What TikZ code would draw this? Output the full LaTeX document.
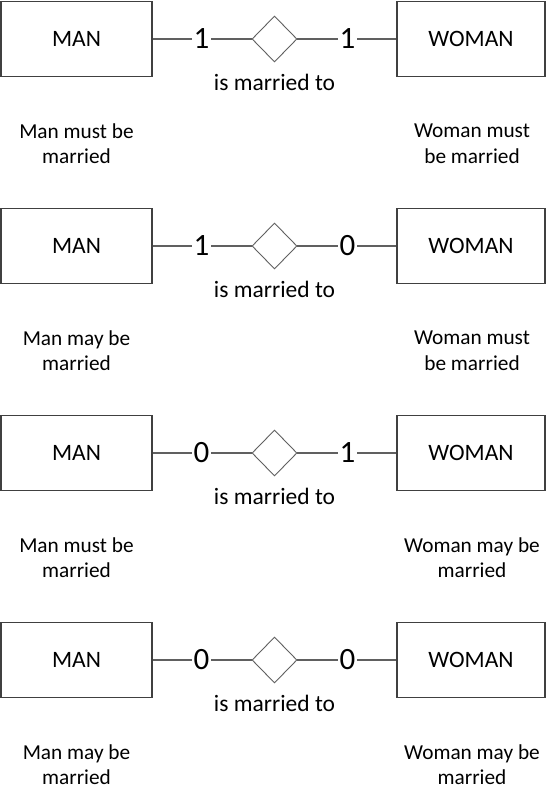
\documentclass[tikz,border=0pt]{standalone}
\usepackage{fontspec}
\setmainfont{Carlito}
\usetikzlibrary{shapes.geometric}
\definecolor{boxc}{HTML}{404040}
\definecolor{linec}{HTML}{606060}
\begin{document}
\begin{tikzpicture}[x=1pt,y=-1pt,
  entity/.style={draw=boxc,line width=1.2pt,minimum width=151pt,minimum height=75pt,inner sep=0pt,font=\fontsize{23.5}{28}\selectfont},
  rel/.style={diamond,draw=linec,line width=0.9pt,minimum width=45pt,minimum height=46pt,inner sep=0pt},
  card/.style={fill=white,inner sep=2pt,font=\fontsize{31}{31}\selectfont},
  conn/.style={draw=linec,line width=1.2pt},
  note/.style={align=center,font=\fontsize{21.3}{25.5}\selectfont},
  rlabel/.style={anchor=base,font=\fontsize{23.5}{28}\selectfont}]
\useasboundingbox (0,0) rectangle (558,802);
\foreach \i/\l/\r/\ml/\wl in {
  1/1/1/{Man must be\\married}/{Woman must\\be married},
  2/1/0/{Man may be\\married}/{Woman must\\be married},
  3/0/1/{Man must be\\married}/{Woman may be\\married},
  4/0/0/{Man may be\\married}/{Woman may be\\married}}{
  \pgfmathsetmacro\y{39+207*(\i-1)}
  \node[entity] (man\i) at (76.5,\y) {MAN};
  \node[entity,minimum width=148pt] (woman\i) at (471,\y) {WOMAN};
  \node[rel] (rel\i) at (274.5,\y) {};
  \node[rlabel] (rt\i) at (274.5,\y+51.5) {is married to};
  \draw[conn] (man\i) -- (rel\i);
  \draw[conn] (rel\i) -- (woman\i);
  \node[card] (cl\i) at (201.5,\y) {\l};
  \node[card] (cr\i) at (347.5,\y) {\r};
  \node[note] (mn\i) at (76.5,\y+104.5) {\ml};
  \node[note] (wn\i) at (472,\y+104.5) {\wl};
}
\end{tikzpicture}
\end{document}
